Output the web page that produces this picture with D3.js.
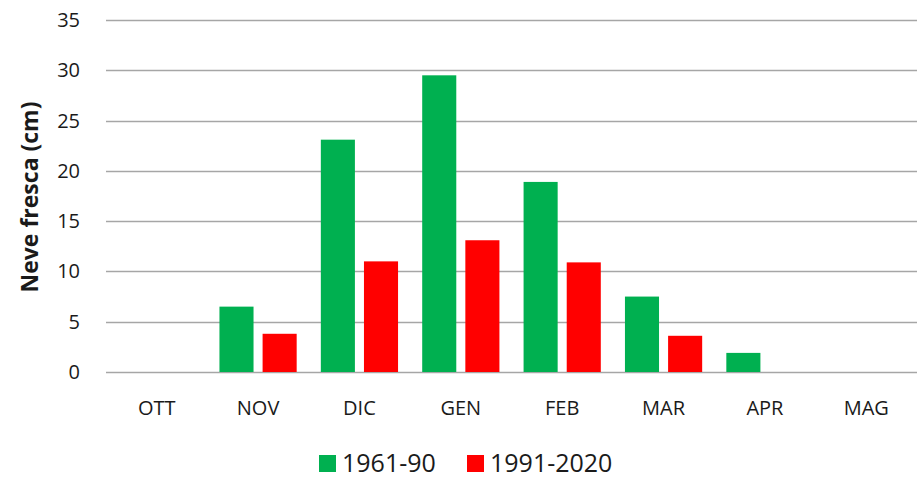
<!DOCTYPE html>
<html>
<head>
<meta charset="utf-8">
<script src="https://cdn.jsdelivr.net/npm/d3@7"></script>
<style>
  body { margin: 0; background: #fff; }
  text { font-family: "Open Sans", "DejaVu Sans", sans-serif; fill: #1a1a1a; }
</style>
</head>
<body>
<script>
// months and values (cm of fresh snow)
const months = ["OTT", "NOV", "DIC", "GEN", "FEB", "MAR", "APR", "MAG"];
const series = ["1961-90", "1991-2020"];
const valsOld = [0, 6.5, 23.1, 29.5, 18.9, 7.5, 1.9, 0];
const valsNew = [0, 3.8, 11.0, 13.1, 10.9, 3.6, 0, 0];
const yTicks = [0, 5, 10, 15, 20, 25, 30, 35];
const colors = ["#00b050", "#ff0000"];

const W = 917, H = 479;
const margin = { top: 20, right: 0, bottom: 107, left: 106 };

const svg = d3.select("body").append("svg")
  .attr("width", W)
  .attr("height", H);

const x = d3.scaleBand()
  .domain(months)
  .range([margin.left, W - margin.right]);

const y = d3.scaleLinear()
  .domain([0, 35])
  .range([H - margin.bottom, margin.top]);

// gridlines
svg.append("g")
  .selectAll("line")
  .data(yTicks)
  .enter().append("line")
  .attr("x1", margin.left)
  .attr("x2", W - margin.right)
  .attr("y1", d => Math.round(y(d)) + 0.5)
  .attr("y2", d => Math.round(y(d)) + 0.5)
  .attr("stroke", "#a6a6a6")
  .attr("stroke-width", 1.5);

// y labels
svg.append("g")
  .selectAll("text")
  .data(yTicks)
  .enter().append("text")
  .attr("x", 80)
  .attr("y", d => y(d) + 7)
  .attr("text-anchor", "end")
  .style("font-size", "20px")
  .text(d => d);

// y title
svg.append("text")
  .attr("transform", "translate(38," + 197 + ") rotate(-90)")
  .attr("text-anchor", "middle")
  .style("font-size", "23px")
  .style("font-weight", "bold")
  .text("Neve fresca (cm)");

// bars
const inner = d3.scaleBand()
  .domain(series)
  .range([0, x.bandwidth()])
  .paddingInner(0.21)
  .paddingOuter(0.28);

const rows = months.map((m, i) => ({ m, v: [valsOld[i], valsNew[i]] }));

const gBars = svg.append("g")
  .selectAll("g")
  .data(rows)
  .enter().append("g")
  .attr("transform", d => "translate(" + x(d.m) + ",0)");

gBars.selectAll("rect")
  .data(d => d.v.map((v, j) => ({ s: series[j], v, j })))
  .enter().append("rect")
  .filter(d => d.v > 0)
  .attr("x", d => inner(d.s))
  .attr("width", inner.bandwidth())
  .attr("y", d => y(d.v))
  .attr("height", d => y(0) - y(d.v))
  .attr("fill", d => colors[d.j]);

// x labels
svg.append("g")
  .selectAll("text")
  .data(months)
  .enter().append("text")
  .attr("x", d => x(d) + x.bandwidth() / 2)
  .attr("y", 415)
  .attr("text-anchor", "middle")
  .style("font-size", "20px")
  .text(d => d);

// legend
const legendX = [319, 467];
const gLegend = svg.append("g")
  .selectAll("g")
  .data(series)
  .enter().append("g")
  .attr("transform", (d, i) => "translate(" + legendX[i] + ",455)");
gLegend.append("rect")
  .attr("width", 17)
  .attr("height", 17)
  .attr("fill", (d, i) => colors[i]);
gLegend.append("text")
  .attr("x", 23)
  .attr("y", 17)
  .style("font-size", "25px")
  .text(d => d);
</script>
</body>
</html>
